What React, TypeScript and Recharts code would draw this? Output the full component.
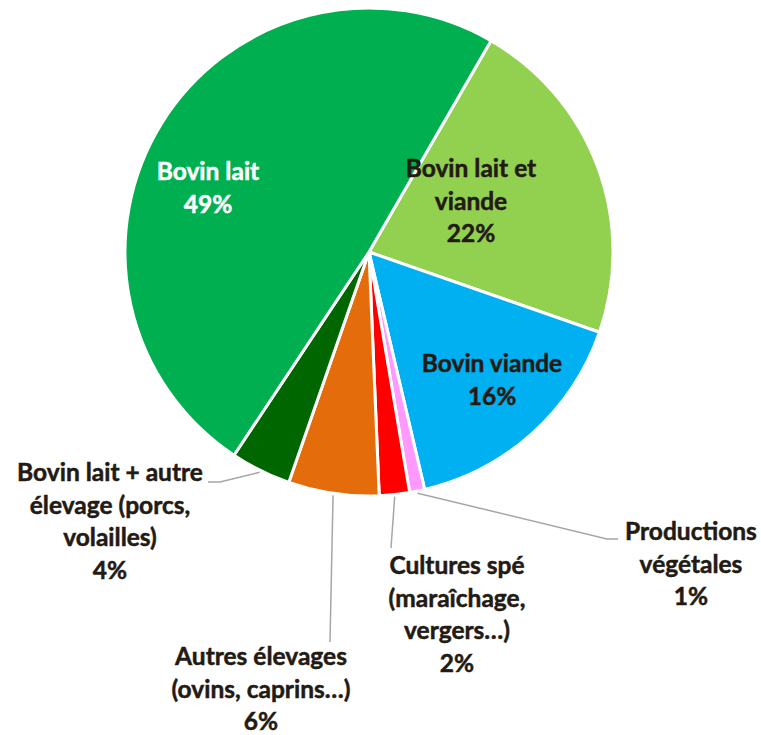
import React from 'react';
import { PieChart, Pie, Cell } from 'recharts';

// Share of farms by production type (%), listed clockwise from the upper-right slice
const categories = [
  'Bovin lait et viande',
  'Bovin viande',
  'Productions végétales',
  'Cultures spé',
  'Autres élevages',
  'Bovin lait + autre élevage',
  'Bovin lait',
];
const shares = [22, 16, 1, 2, 6, 4, 49];

// Wrapped label text for each slice (the percentage line is appended from the value)
const labelText = [
  ['Bovin lait et', 'viande'],
  ['Bovin viande'],
  ['Productions', 'végétales'],
  ['Cultures spé', '(maraîchage,', 'vergers…)'],
  ['Autres élevages', '(ovins, caprins…)'],
  ['Bovin lait + autre', 'élevage (porcs,', 'volailles)'],
  ['Bovin lait'],
];

const sliceColors = ['#92D050', '#00B0F0', '#FF99FF', '#FF0000', '#E46C0A', '#006600', '#00B050'];

// Label block placement relative to the pie centre; leader elbows also relative to centre
type Placement = { dx: number; dy: number; color: string; leader?: number[][] };
const labelPlacement: Placement[] = [
  { dx: 102, dy: -75, color: '#231a13' },
  { dx: 123, dy: 120, color: '#231a13' },
  { dx: 322, dy: 288, color: '#231a13', leader: [[238, 287], [249, 287]] },
  { dx: 88, dy: 322, color: '#231a13', leader: [[22, 296]] },
  { dx: -108, dy: 413, color: '#231a13', leader: [[-39, 390]] },
  { dx: -259, dy: 229, color: '#231a13', leader: [[-149, 230], [-161, 230]] },
  { dx: -161, dy: -72, color: '#ffffff' },
];

const data = categories.map((name, i) => ({ name, value: shares[i] }));

const LINE_HEIGHT = 32.5;
const RAD = Math.PI / 180;

const renderLabel = (props: any) => {
  const { cx, cy, midAngle, outerRadius, index, value } = props;
  const place = labelPlacement[index];
  const lines = [...labelText[index], `${value}%`];
  const x = cx + place.dx;
  const y0 = cy + place.dy;
  let leader: React.ReactNode = null;
  if (place.leader) {
    const r = outerRadius + 2;
    const sx = cx + r * Math.cos(-midAngle * RAD);
    const sy = cy + r * Math.sin(-midAngle * RAD);
    const pts = [[sx, sy], ...place.leader.map(([a, b]) => [cx + a, cy + b])];
    leader = (
      <polyline
        points={pts.map((p) => p.join(',')).join(' ')}
        fill="none"
        stroke="#a6a6a6"
        strokeWidth={1.5}
      />
    );
  }
  return (
    <g key={`lbl-${index}`}>
      {leader}
      <text
        x={x}
        y={y0}
        textAnchor="middle"
        fill={place.color}
        stroke={place.color}
        strokeWidth={0.5}
        fontFamily="Lato, 'Noto Sans', sans-serif"
        fontWeight={700}
        fontSize={24.5}
      >
        {lines.map((l, i) => (
          <tspan key={i} x={x} y={y0 + i * LINE_HEIGHT}>
            {l}
          </tspan>
        ))}
      </text>
    </g>
  );
};

export default function App() {
  return (
    <div style={{ position: 'absolute', left: 0, top: 0, width: 761, height: 735, background: '#fff' }}>
      <PieChart width={761} height={735} margin={{ top: 0, right: 0, bottom: 0, left: 0 }}>
        <Pie
          data={data}
          dataKey="value"
          nameKey="name"
          cx={369}
          cy={252}
          outerRadius={244}
          startAngle={60}
          endAngle={-300}
          stroke="#ffffff"
          strokeWidth={3}
          label={renderLabel}
          labelLine={false}
          isAnimationActive={false}
        >
          {data.map((d, i) => (
            <Cell key={d.name} fill={sliceColors[i]} />
          ))}
        </Pie>
      </PieChart>
    </div>
  );
}
